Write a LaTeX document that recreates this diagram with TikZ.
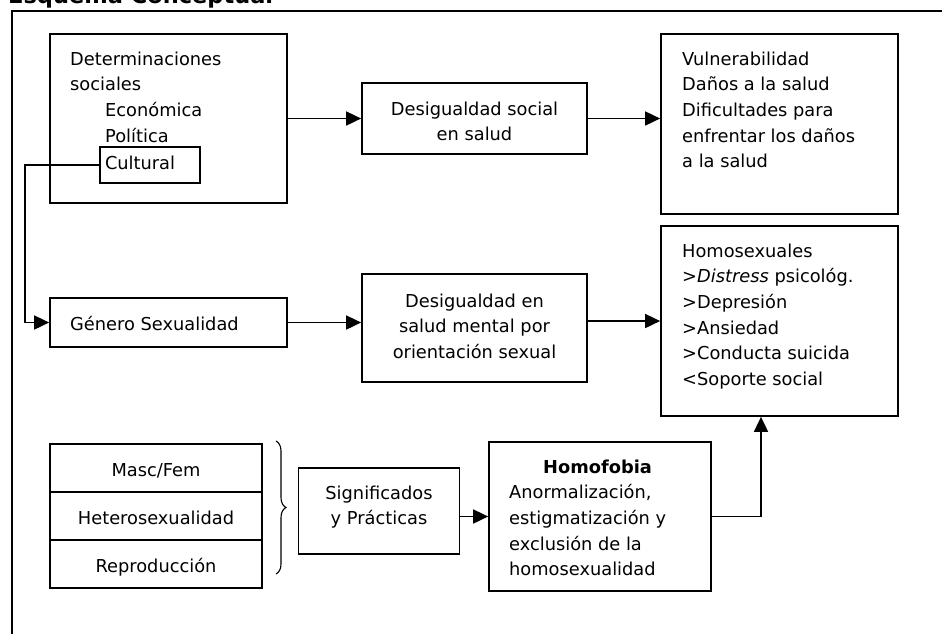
\documentclass[tikz,border=0pt]{standalone}
\usepackage{fontspec}
\setmainfont{DejaVu Sans}
\usetikzlibrary{arrows.meta,decorations.pathreplacing}
\newcommand\hstr{\rule{0pt}{14pt}}
\begin{document}
\begin{tikzpicture}[x=1pt,y=-1pt,
  box/.style={draw,line width=1.7pt,inner sep=0pt},
  txt/.style={inner sep=0pt,font=\fontsize{17.8}{25.6}\selectfont},
  arr/.style={line width=1.7pt,-{Triangle[length=15pt,width=14pt]}},
  ln/.style={line width=1.7pt}]
\useasboundingbox (0,0) rectangle (942,633);
\clip (0,0) rectangle (942,633);
\node[anchor=base west,inner sep=0pt,font=\fontsize{22.5}{27}\selectfont\bfseries] (title) at (8,3) {Esquema Conceptual};
\draw[ln] (12,650) -- (12,11) -- (960,11);

% top row
\node[box,minimum width=237,minimum height=169] (det) at (168.5,118.5) {};
\node[txt,anchor=north west,align=left] (dett) at (70,51) {\hstr Determinaciones\\sociales\\\hspace*{35pt}Económica\\\hspace*{35pt}Política};
\node[box,txt,minimum width=100,minimum height=36,text width=90pt,inner xsep=5pt,align=left,text height=12pt,text depth=4pt] (cult) at (150,165) {Cultural};

\node[box,minimum width=225,minimum height=71] (dsoc) at (474.5,118.5) {};
\node[txt,anchor=north,align=center] (dsoct) at (474.5,101) {\hstr Desigualdad social\\en salud};

\node[box,minimum width=237,minimum height=180] (vuln) at (779.5,124) {};
\node[txt,anchor=north west,align=left] (vulnt) at (682,51) {\hstr Vulnerabilidad\\Daños a la salud\\Dificultades para\\enfrentar los daños\\a la salud};

% middle row
\node[box,minimum width=237,minimum height=49] (gen) at (168.5,322.5) {};
\node[txt,anchor=base west] (gent) at (70,330) {Género Sexualidad};

\node[box,minimum width=225,minimum height=108] (dment) at (474.5,328) {};
\node[txt,anchor=north,align=center] (dmentt) at (474.5,293) {\hstr Desigualdad en\\salud mental por\\orientación sexual};

\node[box,minimum width=237,minimum height=190] (homos) at (779.5,321) {};
\node[txt,anchor=north west,align=left] (homost) at (682,243) {\hstr Homosexuales\\>\textit{Distress} psicológ.\\>Depresión\\>Ansiedad\\>Conducta suicida\\<Soporte social};

% bottom row
\node[box,txt,minimum width=212,minimum height=48,text height=16pt,text depth=0pt] (masc) at (156,468) {Masc/Fem};
\node[box,txt,minimum width=212,minimum height=48,text height=16pt,text depth=0pt] (hetero) at (156,516) {Heterosexualidad};
\node[box,txt,minimum width=212,minimum height=48,text height=16pt,text depth=0pt] (repro) at (156,564) {Reproducción};
\draw[line width=1.1pt,decorate,decoration={brace,amplitude=10pt}] (276,441) -- (276,574);

\node[box,minimum width=161,minimum height=86] (sig) at (379,511) {};
\node[txt,anchor=north,align=center] (sigt) at (379,485) {\hstr Significados\\y Prácticas};

\node[box,minimum width=222,minimum height=149] (hfob) at (600,516.5) {};
\node[txt,anchor=north west,align=left] (hfobt) at (509,459) {\hstr\hspace*{34pt}\textbf{Homofobia}\\Anormalización,\\estigmatización y\\exclusión de la\\homosexualidad};

% connectors
\coordinate (bend) at (25,165);
\draw[arr] (cult.west) -- (bend) |- (gen.west);
\draw[arr] (det.east) -- (dsoc.west);
\draw[arr] (dsoc.east) -- (dsoc.east -| vuln.west);
\draw[arr] (gen.east) -- (gen.east -| dment.west);
\draw[arr] (homos.west -| dment.east) -- (homos.west);
\draw[arr] (hfob.west -| sig.east) -- (hfob.west);
\draw[arr] (hfob.east) -| ([xshift=-18.5pt]homos.south);
\end{tikzpicture}
\end{document}
